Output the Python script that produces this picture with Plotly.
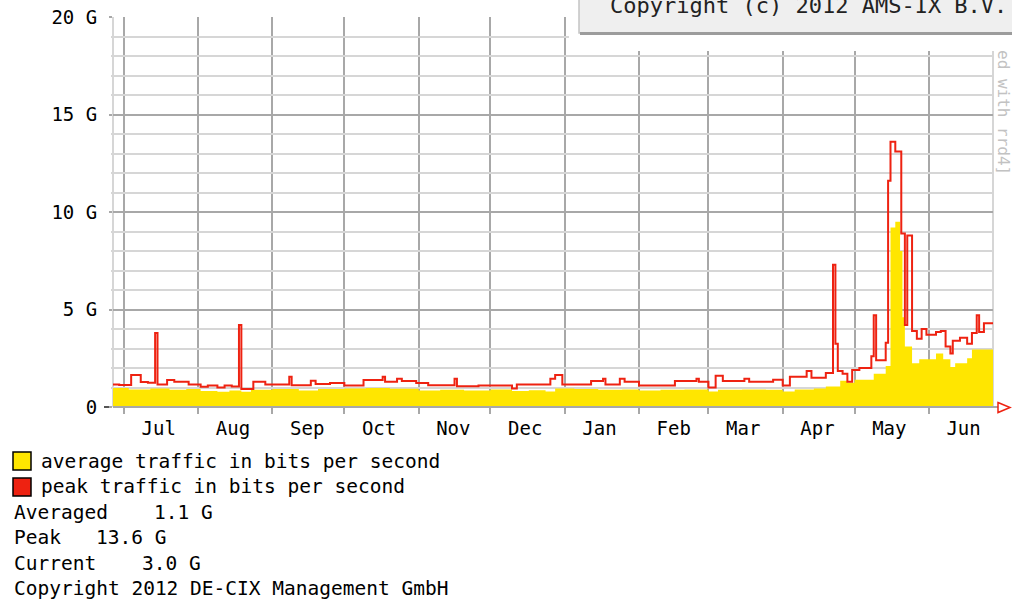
import plotly.graph_objects as go

# ---------------- data (values in G bit/s) ----------------
peak_dates = [
    "2011-06-26", "2011-06-29", "2011-07-04", "2011-07-08", "2011-07-11", "2011-07-14",
    "2011-07-15", "2011-07-19", "2011-07-22", "2011-07-28", "2011-08-02", "2011-08-05",
    "2011-08-09", "2011-08-12", "2011-08-15", "2011-08-18", "2011-08-19", "2011-08-24",
    "2011-08-29", "2011-09-08", "2011-09-09", "2011-09-17", "2011-09-19", "2011-09-25",
    "2011-10-01", "2011-10-09", "2011-10-17", "2011-10-18", "2011-10-23", "2011-10-25",
    "2011-10-31", "2011-11-05", "2011-11-16", "2011-11-17", "2011-11-26", "2011-12-10",
    "2011-12-12", "2011-12-26", "2011-12-28", "2011-12-31", "2012-01-12", "2012-01-17",
    "2012-01-18", "2012-01-24", "2012-01-26", "2012-02-01", "2012-02-16", "2012-02-25",
    "2012-02-26", "2012-03-01", "2012-03-04", "2012-03-07", "2012-03-16", "2012-03-18",
    "2012-03-28", "2012-04-01", "2012-04-04", "2012-04-11", "2012-04-13", "2012-04-19",
    "2012-04-22", "2012-04-23", "2012-04-24", "2012-04-26", "2012-04-28", "2012-04-30",
    "2012-05-03", "2012-05-08", "2012-05-09", "2012-05-10", "2012-05-14", "2012-05-15",
    "2012-05-16", "2012-05-18", "2012-05-20 12:00", "2012-05-22", "2012-05-23", "2012-05-25",
    "2012-05-27", "2012-05-29", "2012-05-31", "2012-06-04", "2012-06-06", "2012-06-08",
    "2012-06-10", "2012-06-11", "2012-06-14", "2012-06-17", "2012-06-19", "2012-06-21",
    "2012-06-22", "2012-06-24", "2012-06-28",
]
peak_g = [
    1.16, 1.13, 1.64, 1.28, 1.25, 3.8,
    1.15, 1.38, 1.3, 1.15, 1.04, 1.1,
    1.0, 1.1, 1.05, 4.2, 0.92, 1.3,
    1.15, 1.55, 1.12, 1.35, 1.18, 1.23,
    1.1, 1.38, 1.55, 1.3, 1.45, 1.33,
    1.23, 1.12, 1.45, 1.06, 1.1, 0.95,
    1.15, 1.45, 1.64, 1.15, 1.33, 1.45,
    1.15, 1.45, 1.3, 1.1, 1.33, 1.45,
    1.3, 1.0, 1.6, 1.33, 1.45, 1.3,
    1.4, 1.1, 1.55, 1.85, 1.5, 1.75,
    7.3, 3.25, 1.85, 1.7, 1.3, 1.9,
    2.0, 2.6, 4.7, 2.4, 3.3, 11.6,
    13.6, 13.1, 8.9, 4.2, 8.8, 3.9,
    3.5, 4.0, 3.7, 3.85, 3.9, 3.1,
    2.75, 3.4, 3.55, 3.25, 3.8, 4.7,
    3.85, 4.3, 4.3,
]

avg_dates = [
    "2011-06-26", "2011-07-03", "2011-07-12", "2011-07-20", "2011-07-27", "2011-08-02",
    "2011-08-09", "2011-08-14", "2011-08-19", "2011-08-23", "2011-09-01", "2011-09-12",
    "2011-09-20", "2011-10-01", "2011-10-10", "2011-10-20", "2011-11-01", "2011-11-10",
    "2011-11-20", "2011-12-01", "2011-12-10", "2011-12-17", "2011-12-24", "2011-12-28",
    "2012-01-05", "2012-01-15", "2012-01-25", "2012-02-01", "2012-02-10", "2012-02-20",
    "2012-03-01", "2012-03-05", "2012-03-15", "2012-03-25", "2012-04-01", "2012-04-06",
    "2012-04-14", "2012-04-19", "2012-04-25", "2012-04-28", "2012-05-01", "2012-05-09",
    "2012-05-14", "2012-05-16", "2012-05-18", "2012-05-20", "2012-05-21", "2012-05-22",
    "2012-05-25", "2012-05-28", "2012-06-04", "2012-06-07", "2012-06-10", "2012-06-12",
    "2012-06-17", "2012-06-19", "2012-06-28",
]
avg_g = [
    0.97, 0.9, 0.95, 0.88, 0.92, 0.82,
    0.78, 0.85, 0.78, 0.88, 0.92, 0.85,
    0.92, 0.95, 0.98, 0.93, 0.85, 0.88,
    0.84, 0.9, 0.82, 0.86, 0.8, 0.95,
    0.92, 0.88, 0.9, 0.84, 0.88, 0.9,
    0.8, 0.88, 0.9, 0.88, 0.8, 0.9,
    0.95, 1.05, 1.35, 1.25, 1.4, 1.7,
    2.1, 9.2, 9.5, 8.0, 4.6, 3.1,
    2.25, 2.45, 2.75, 2.45, 2.05, 2.25,
    2.5, 2.95, 3.0,
]

month_label_dates = [
    "2011-07-15 12:00", "2011-08-15 12:00", "2011-09-15 12:00", "2011-10-15 12:00",
    "2011-11-15 12:00", "2011-12-15 12:00", "2012-01-15 12:00", "2012-02-15 12:00",
    "2012-03-15 12:00", "2012-04-15 12:00", "2012-05-15 12:00", "2012-06-15 12:00",
]
month_labels = ["Jul", "Aug", "Sep", "Oct", "Nov", "Dec", "Jan", "Feb", "Mar", "Apr", "May", "Jun"]

y_tick_vals = [0, 5, 10, 15, 20]
y_tick_text = ["0", "5 G", "10 G", "15 G", "20 G"]

legend_labels = ["average traffic in bits per second", "peak traffic in bits per second"]
stat_names = ["Averaged", "Peak", "Current"]
stat_values = ["1.1 G", "13.6 G", "3.0 G"]
footer_text = "Copyright 2012 DE-CIX Management GmbH"
box_text = "Copyright (c) 2012 AMS-IX B.V."
side_text = "ed with rrd4]"

# ---------------- styling ----------------
W, H = 1012, 604
L, R, T, B = 113, 19, 17, 197
PW, PH = W - L - R, H - T - B

YELLOW = "#FFE600"
RED = "#EE2211"
MAJOR = "#A8A8A8"
MINOR = "#D6D6D6"
MONO = "DejaVu Sans Mono"


def px(x):
    return (x - L) / PW


def py(y):
    return (H - B - y) / PH


fig = go.Figure()
fig.add_trace(go.Scatter(
    x=avg_dates, y=avg_g, mode="lines", line=dict(shape="hv", width=0, color=YELLOW),
    fill="tozeroy", fillcolor=YELLOW, hoverinfo="skip", showlegend=False))
fig.add_trace(go.Scatter(
    x=peak_dates, y=peak_g, mode="lines", line=dict(shape="hv", width=2, color=RED),
    hoverinfo="skip", showlegend=False))

shapes = []
shapes.append(dict(type="line", xref="paper", yref="paper", x0=0, x1=0, y0=0, y1=1,
                   line=dict(color=MINOR, width=2), layer="below"))
shapes.append(dict(type="line", xref="paper", yref="paper", x0=1, x1=1, y0=0, y1=1,
                   line=dict(color=MINOR, width=2), layer="below"))
shapes.append(dict(type="line", xref="paper", yref="paper", x0=0, x1=px(999), y0=0, y1=0,
                   line=dict(color=MAJOR, width=2), layer="above"))
shapes.append(dict(type="line", xref="paper", yref="paper", x0=px(104), x1=px(109), y0=0, y1=0,
                   line=dict(color="#555555", width=2), layer="above"))
shapes.append(dict(type="path", xref="paper", yref="paper",
                   path=f"M {px(998)},{py(402.5)} L {px(1010)},{py(407.5)} L {px(998)},{py(412.5)} Z",
                   line=dict(color=RED, width=1.5), fillcolor="white", layer="above"))
shapes.append(dict(type="rect", xref="paper", yref="paper", x0=px(569), x1=px(1020),
                   y0=py(51), y1=py(-5), fillcolor="white", line=dict(width=0), layer="above"))
shapes.append(dict(type="rect", xref="paper", yref="paper", x0=px(579), x1=px(1020),
                   y0=py(33), y1=py(-5), fillcolor="#EFEFEF", line=dict(color="#C4C4C4", width=1.5),
                   layer="above"))
shapes.append(dict(type="line", xref="paper", yref="paper", x0=px(580), x1=px(1020),
                   y0=py(33.5), y1=py(33.5), line=dict(color="#9C9C9C", width=3), layer="above"))
for i, c in enumerate([YELLOW, RED]):
    y0 = 452 + i * 26
    shapes.append(dict(type="rect", xref="paper", yref="paper", x0=px(13), x1=px(31),
                       y0=py(y0 + 18), y1=py(y0), fillcolor=c, line=dict(color="black", width=1.5),
                       layer="above"))

annotations = []
lab_font = dict(family=MONO, size=19.5, color="black")
for i, t in enumerate(legend_labels):
    annotations.append(dict(text=t, xref="paper", yref="paper", x=px(39), y=py(461 + i * 25.5),
                            xanchor="left", yanchor="middle", showarrow=False, font=lab_font))
for i, (n, v) in enumerate(zip(stat_names, stat_values)):
    yc = py(512 + i * 25.5)
    annotations.append(dict(text=n, xref="paper", yref="paper", x=px(12), y=yc,
                            xanchor="left", yanchor="middle", showarrow=False, font=lab_font))
    vx = [152, 94, 140][i]
    annotations.append(dict(text=v, xref="paper", yref="paper", x=px(vx), y=yc,
                            xanchor="left", yanchor="middle", showarrow=False, font=lab_font))
annotations.append(dict(text=footer_text, xref="paper", yref="paper", x=px(12), y=py(588.5),
                        xanchor="left", yanchor="middle", showarrow=False, font=lab_font))
annotations.append(dict(text=box_text, xref="paper", yref="paper", x=px(608), y=py(5),
                        xanchor="left", yanchor="middle", showarrow=False,
                        font=dict(family=MONO, size=22, color="#222222")))
annotations.append(dict(text=side_text, xref="paper", yref="paper", x=px(1004), y=py(112),
                        xanchor="center", yanchor="middle", showarrow=False, textangle=90,
                        font=dict(family=MONO, size=16, color="#C2C2C2")))

fig.update_layout(
    width=W, height=H,
    margin=dict(l=L, r=R, t=T, b=B, pad=0, autoexpand=False),
    paper_bgcolor="white", plot_bgcolor="white",
    showlegend=False,
    shapes=shapes, annotations=annotations,
    xaxis=dict(
        type="date", range=["2011-06-26 10:00", "2012-06-27 19:00"], automargin=False,
        tickmode="array", tickvals=month_label_dates, ticktext=month_labels,
        showgrid=False, zeroline=False, showline=False,
        ticks="outside", ticklen=4, tickcolor="rgba(0,0,0,0)",
        tickfont=dict(family=MONO, size=19, color="black"),
        minor=dict(dtick="M1", tick0="2011-07-01", showgrid=True, gridcolor=MAJOR, gridwidth=2,
                   ticks="outside", ticklen=6, tickcolor=MAJOR, tickwidth=2),
        fixedrange=True,
    ),
    yaxis=dict(
        range=[0, 20], tickmode="array", tickvals=y_tick_vals, ticktext=y_tick_text,
        automargin=False,
        showgrid=True, gridcolor=MAJOR, gridwidth=2, zeroline=False, showline=False,
        ticks="outside", ticklen=3, tickcolor=MAJOR, tickwidth=2, ticklabelstandoff=8,
        tickfont=dict(family=MONO, size=19, color="black"),
        minor=dict(dtick=1, showgrid=True, gridcolor=MINOR, gridwidth=2,
                   ticks="outside", ticklen=1, tickcolor=MINOR, tickwidth=2),
        fixedrange=True,
    ),
)

fig.write_html(
    "out.html",
    config={"displayModeBar": False},
    post_script="document.body.style.margin='0';document.body.style.padding='0';"
                "document.body.style.overflow='hidden';",
)
